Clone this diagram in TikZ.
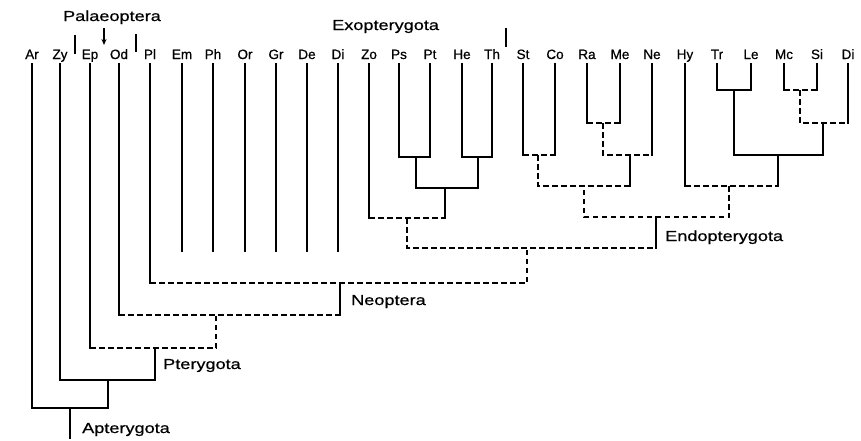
\documentclass[tikz,border=0pt]{standalone}
\usepackage{fontspec}
\setmainfont{Liberation Sans}[FakeBold=0.6]
\newfontfamily\grpfont[FakeStretch=1.25,FakeBold=0.6]{Liberation Sans}
\usetikzlibrary{arrows.meta}
\tikzset{
  tree/.style={line width=2.2pt, line cap=rect, line join=miter},
  dsh/.style={tree, line cap=butt, dash pattern=on 5.5pt off 3.5pt},
  taxon/.style={font=\fontsize{13.5}{15}\selectfont, anchor=base, inner sep=0pt},
  grp/.style={font=\grpfont\fontsize{14.5}{16}\selectfont, anchor=base west, inner sep=0pt},
  tick/.style={line width=1.8pt},
}
\begin{document}
\begin{tikzpicture}[x=1pt,y=-1pt]
\useasboundingbox (0,0) rectangle (861,440);
% taxon labels
\foreach \n/\x/\t in {a/32/Ar,b/60/Zy,c/90/Ep,d/119/Od,e/150/Pl,f/182/Em,g/213/Ph,h/245/Or,i/276/Gr,j/307/De,k/338/Di,l/369/Zo,m/399/Ps,n/430/Pt,o/462/He,p/492/Th,q/523/St,r/555/Co,s/587/Ra,t/620/Me,u/652/Ne,v/685/Hy,w/717/Tr,x/751/Le,y/784/Mc,z/817/Si,zz/848/Di}{
  \node[taxon] (L\n) at (\x,59) {\t};
  \coordinate (T\n) at (\x,64);
}
% group labels
\node[grp, anchor=base] (palaeo) at (112,21) {Palaeoptera};
\node[grp] (exo) at (332,30) {Exopterygota};
\node[grp] (neo) at (351,305) {Neoptera};
\node[grp] (endo) at (665,241) {Endopterygota};
\node[grp] (ptery) at (163,369) {Pterygota};
\node[grp] (aptery) at (82,433) {Apterygota};
% group marks
\coordinate (pa1) at (104,28); \coordinate (pa2) at (104,45);
\draw[tick,-{Stealth[length=6pt,width=5pt]}] (pa1) -- (pa2);
\draw[tick] (75,35) -- (75,54);
\draw[tick] (136,34) -- (136,52);
\draw[tick] (506,28) -- (506,47);
% ---- solid branches
\draw[tree] (Ta) -- (32,408) -- (108,408) -- (108,380);
\draw[tree] (70,408) -- (70,438);
\draw[tree] (Tb) -- (60,380) -- (155,380) -- (155,348);
\draw[tree] (Tc) -- (90,348);
\draw[tree] (Td) -- (119,315);
\draw[tree] (Te) -- (150,283);
\foreach \n in {f,g,h,i,j,k}{\draw[tree] (T\n) -- ++(0,187);}
\draw[tree] (340,315) -- (340,283);
\draw[tree] (656,248) -- (656,217);
\draw[tree] (Tl) -- (369,218);
\draw[tree] (445,218) -- (445,188);
\draw[tree] (416,157) -- (416,188) -- (478,188) -- (478,157);
\draw[tree] (Tm) -- (399,157) -- (430,157) -- (Tn);
\draw[tree] (To) -- (462,157) -- (492,157) -- (Tp);
\draw[tree] (Tq) -- (523,155);
\draw[tree] (Tr) -- (555,155);
\draw[tree] (Ts) -- (587,123);
\draw[tree] (Tt) -- (620,123);
\draw[tree] (Tu) -- (652,155);
\draw[tree] (630,186) -- (630,155);
\draw[tree] (Tv) -- (685,186);
\draw[tree] (778,186) -- (778,155);
\draw[tree] (734,90) -- (734,155) -- (823,155) -- (823,123);
\draw[tree] (Tw) -- (717,90) -- (751,90) -- (Tx);
\draw[tree] (Ty) -- (784,90);
\draw[tree] (Tz) -- (817,90);
\draw[tree] (Tzz) -- (848,123);
% ---- dashed branches
\draw[dsh] (90,348) -- (216,348) -- (216,315);
\draw[dsh] (119,315) -- (340,315);
\draw[dsh] (150,283) -- (527,283) -- (527,248);
\draw[dsh] (407,218) -- (407,248) -- (656,248);
\draw[dsh] (369,218) -- (445,218);
\draw[dsh] (729,186) -- (729,217) -- (584,217) -- (584,186);
\draw[dsh] (538,155) -- (538,186) -- (630,186);
\draw[dsh] (523,155) -- (555,155);
\draw[dsh] (603,123) -- (603,155) -- (652,155);
\draw[dsh] (587,123) -- (620,123);
\draw[dsh] (685,186) -- (778,186);
\draw[dsh] (800,90) -- (800,123) -- (848,123);
\draw[dsh] (784,90) -- (817,90);
\end{tikzpicture}
\end{document}
